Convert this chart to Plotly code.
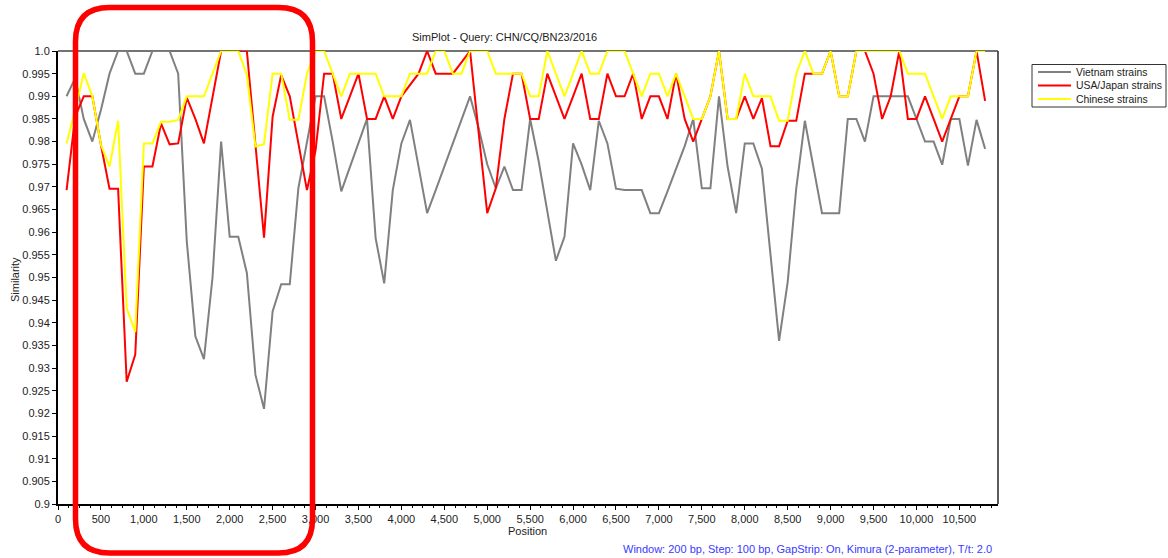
import plotly.graph_objects as go

# ---------------- data ----------------
positions = [100, 200, 300, 400, 500, 600, 700, 800, 900, 1000,
             1100, 1200, 1300, 1400, 1500, 1600, 1700, 1800, 1900, 2000,
             2100, 2200, 2300, 2400, 2500, 2600, 2700, 2800, 2900, 3000,
             3100, 3200, 3300, 3400, 3500, 3600, 3700, 3800, 3900, 4000,
             4100, 4200, 4300, 4400, 4500, 4600, 4700, 4800, 4900, 5000,
             5100, 5200, 5300, 5400, 5500, 5600, 5700, 5800, 5900, 6000,
             6100, 6200, 6300, 6400, 6500, 6600, 6700, 6800, 6900, 7000,
             7100, 7200, 7300, 7400, 7500, 7600, 7700, 7800, 7900, 8000,
             8100, 8200, 8300, 8400, 8500, 8600, 8700, 8800, 8900, 9000,
             9100, 9200, 9300, 9400, 9500, 9600, 9700, 9800, 9900, 10000,
             10100, 10200, 10300, 10400, 10500, 10600, 10700, 10800]

vietnam = [0.990, 0.994, 0.985, 0.980, 0.987, 0.995, 1.000, 1.000, 0.995, 0.995,
           1.000, 1.000, 1.000, 0.995, 0.958, 0.937, 0.932, 0.950, 0.980, 0.959,
           0.959, 0.951, 0.9285, 0.921, 0.9425, 0.9485, 0.9485, 0.9697, 0.980, 0.990,
           0.990, 0.980, 0.969, 0.9745, 0.980, 0.985, 0.9587, 0.9487, 0.9693, 0.9796,
           0.9848, 0.9745, 0.9642, 0.9693, 0.9745, 0.9796, 0.9848, 0.990, 0.983, 0.975,
           0.9697, 0.9745, 0.9693, 0.9693, 0.985, 0.9756, 0.9646, 0.9537, 0.959, 0.9796,
           0.9749, 0.9693, 0.9846, 0.9796, 0.9696, 0.9693, 0.9693, 0.9693, 0.9642, 0.9642,
           0.969, 0.974, 0.979, 0.985, 0.9697, 0.9697, 0.990, 0.9745, 0.9642, 0.9796,
           0.9796, 0.974, 0.955, 0.936, 0.949, 0.9697, 0.9846, 0.9745, 0.9642, 0.9642,
           0.9642, 0.985, 0.985, 0.980, 0.990, 0.990, 0.990, 0.990, 0.990, 0.985,
           0.980, 0.980, 0.9749, 0.985, 0.985, 0.9747, 0.9848, 0.9784]

usa_japan = [0.9693, 0.9855, 0.990, 0.990, 0.9793, 0.9696, 0.9696, 0.927, 0.933, 0.9745,
             0.9745, 0.984, 0.9794, 0.9796, 0.9897, 0.985, 0.9796, 0.990, 1.000, 1.000,
             1.000, 1.000, 0.9793, 0.9588, 0.9855, 0.9947, 0.990, 0.9796, 0.9693, 0.978,
             0.995, 0.995, 0.985, 0.990, 0.995, 0.985, 0.985, 0.990, 0.985, 0.990,
             0.9925, 0.995, 1.000, 0.995, 0.995, 0.995, 0.9975, 1.000, 0.982, 0.9642,
             0.9697, 0.985, 0.995, 0.995, 0.985, 0.985, 0.995, 0.990, 0.985, 0.990,
             0.995, 0.985, 0.985, 0.995, 0.990, 0.990, 0.995, 0.985, 0.990, 0.990,
             0.985, 0.995, 0.985, 0.980, 0.985, 0.990, 1.000, 0.985, 0.985, 0.990,
             0.985, 0.9896, 0.979, 0.979, 0.9846, 0.9846, 0.995, 0.995, 0.995, 1.000,
             0.990, 0.990, 1.000, 1.000, 0.995, 0.985, 0.990, 1.000, 0.985, 0.985,
             0.990, 0.985, 0.980, 0.985, 0.990, 0.990, 1.000, 0.989]

chinese = [0.9796, 0.987, 0.9951, 0.990, 0.9793, 0.9745, 0.9846, 0.9432, 0.938, 0.9796,
           0.9796, 0.9844, 0.9844, 0.9848, 0.990, 0.990, 0.990, 0.995, 1.000, 1.000,
           1.000, 0.9947, 0.9789, 0.9794, 0.995, 0.995, 0.9848, 0.9848, 0.995, 1.000,
           1.000, 0.995, 0.990, 0.995, 0.995, 0.995, 0.995, 0.990, 0.990, 0.990,
           0.995, 0.995, 0.995, 1.000, 1.000, 0.995, 0.995, 1.000, 1.000, 1.000,
           0.995, 0.995, 0.995, 0.995, 0.990, 0.990, 1.000, 0.995, 0.990, 0.995,
           1.000, 0.995, 0.995, 1.000, 1.000, 1.000, 0.995, 0.990, 0.995, 0.995,
           0.990, 0.995, 0.990, 0.985, 0.985, 0.990, 1.000, 0.985, 0.985, 0.995,
           0.990, 0.990, 0.990, 0.9846, 0.9846, 0.995, 1.000, 0.995, 0.995, 1.000,
           0.990, 0.990, 1.000, 1.000, 1.000, 1.000, 1.000, 1.000, 0.995, 0.995,
           0.995, 0.990, 0.985, 0.990, 0.990, 0.990, 1.000, 1.000]

series_names = ["Vietnam strains", "USA/Japan strains", "Chinese strains"]
series_colors = ["#808080", "#ff0000", "#ffff00"]

y_tick_vals = [0.9, 0.905, 0.91, 0.915, 0.92, 0.925, 0.93, 0.935, 0.94, 0.945, 0.95,
               0.955, 0.96, 0.965, 0.97, 0.975, 0.98, 0.985, 0.99, 0.995, 1.0]
y_tick_text = ["0.9", "0.905", "0.91", "0.915", "0.92", "0.925", "0.93", "0.935", "0.94",
               "0.945", "0.95", "0.955", "0.96", "0.965", "0.97", "0.975", "0.98", "0.985",
               "0.99", "0.995", "1.0"]

title_text = "SimPlot - Query: CHN/CQ/BN23/2016"
x_title = "Position"
y_title = "Similarity"
footer_text = "Window: 200 bp, Step: 100 bp, GapStrip: On, Kimura (2-parameter), T/t: 2.0"

# ---------------- figure ----------------
W, H = 1168, 558
L, R, T, B = 58, 998, 51, 504   # plot area in pixels
PW, PH = R - L, B - T


def px(x):
    return (x - L) / PW


def py(y):
    return (B - y) / PH


FONT = "Liberation Sans, Arial, sans-serif"
TXT = "#222222"

fig = go.Figure()
for name, col, vals in zip(series_names, series_colors,
                           [vietnam, usa_japan, chinese]):
    fig.add_trace(go.Scatter(x=positions, y=vals, mode="lines", name=name,
                             line=dict(color=col, width=2), cliponaxis=False,
                             showlegend=False))

fig.update_layout(
    width=W, height=H, autosize=False,
    margin=dict(l=L, r=W - R, t=T, b=H - B, pad=0, autoexpand=False),
    paper_bgcolor="white", plot_bgcolor="white",
    font=dict(family=FONT, size=11, color=TXT),
    showlegend=False,
)

fig.update_xaxes(range=[0, 10950], dtick=500, tick0=0,
                 tickformat=",d", showgrid=False, zeroline=False,
                 showline=True, linecolor="black", linewidth=2,
                 ticks="outside", ticklen=4, tickcolor="black", tickwidth=1,
                 minor=dict(dtick=125, ticks="outside", ticklen=2, tickcolor="black"),
                 tickfont=dict(family=FONT, size=11, color=TXT))
fig.update_yaxes(range=[0.9, 1.0], tickvals=y_tick_vals, ticktext=y_tick_text,
                 showgrid=False, zeroline=False,
                 showline=True, linecolor="black", linewidth=2,
                 ticks="outside", ticklen=4, tickcolor="black", tickwidth=1,
                 tickfont=dict(family=FONT, size=11, color=TXT))

# top and right frame lines (thinner, dark gray)
fig.add_shape(type="line", xref="paper", yref="paper", x0=0, x1=1, y0=1, y1=1,
              line=dict(color="#444444", width=1.3), layer="below")
fig.add_shape(type="line", xref="paper", yref="paper", x0=1, x1=1, y0=0, y1=1,
              line=dict(color="#333333", width=1.6))

# legend box (drawn in pixel geometry, converted to paper coords)
lg_x0, lg_x1, lg_y0, lg_y1 = 1032, 1166, 64.5, 107
fig.add_shape(type="rect", xref="paper", yref="paper",
              x0=px(lg_x0), x1=px(lg_x1), y0=py(lg_y1), y1=py(lg_y0),
              line=dict(color="#333333", width=1), fillcolor="white")
row_y = [72, 85.5, 99]
for i, (name, col) in enumerate(zip(series_names, series_colors)):
    fig.add_shape(type="line", xref="paper", yref="paper",
                  x0=px(1038), x1=px(1071), y0=py(row_y[i]), y1=py(row_y[i]),
                  line=dict(color=col, width=2))
    fig.add_annotation(text=name, xref="paper", yref="paper", x=px(1074), y=py(row_y[i]),
                       showarrow=False, xanchor="left", yanchor="middle",
                       font=dict(family=FONT, size=10.4, color=TXT))

# texts
fig.add_annotation(text=title_text, xref="paper", yref="paper", x=px(504), y=py(37),
                   showarrow=False, xanchor="center", yanchor="middle",
                   font=dict(family=FONT, size=11, color=TXT))
fig.add_annotation(text=x_title, xref="paper", yref="paper", x=px(527), y=py(531),
                   showarrow=False, xanchor="center", yanchor="middle",
                   font=dict(family=FONT, size=11, color=TXT))
fig.add_annotation(text=y_title, xref="paper", yref="paper", x=px(15), y=py(280),
                   showarrow=False, xanchor="center", yanchor="middle", textangle=-90,
                   font=dict(family=FONT, size=11, color=TXT))
fig.add_annotation(text=footer_text, xref="paper", yref="paper", x=px(994), y=py(549),
                   showarrow=False, xanchor="right", yanchor="middle",
                   font=dict(family=FONT, size=11, color="#3a3aff"))

# red rounded highlight box (pixel geometry converted to paper)
bx0, bx1, by0, by1, rr = 75.5, 312.5, 7.5, 553.0, 34
rx, ry = rr / PW, rr / PH
X0, X1, Y0, Y1 = px(bx0), px(bx1), py(by1), py(by0)
path = (f"M {X0 + rx} {Y1} L {X1 - rx} {Y1} Q {X1} {Y1} {X1} {Y1 - ry} "
        f"L {X1} {Y0 + ry} Q {X1} {Y0} {X1 - rx} {Y0} "
        f"L {X0 + rx} {Y0} Q {X0} {Y0} {X0} {Y0 + ry} "
        f"L {X0} {Y1 - ry} Q {X0} {Y1} {X0 + rx} {Y1} Z")
fig.add_shape(type="path", xref="paper", yref="paper", path=path,
              line=dict(color="#ff0000", width=5.5), fillcolor="rgba(0,0,0,0)",
              layer="above")

post = ("document.body.style.margin='0';document.body.style.padding='0';"
        "document.body.style.overflow='hidden';"
        "var gd=document.getElementById('{plot_id}');"
        "Plotly.relayout(gd,{width:1168,height:558});")

fig.write_html("out.html", config={"responsive": False, "displayModeBar": False},
               post_script=post)
